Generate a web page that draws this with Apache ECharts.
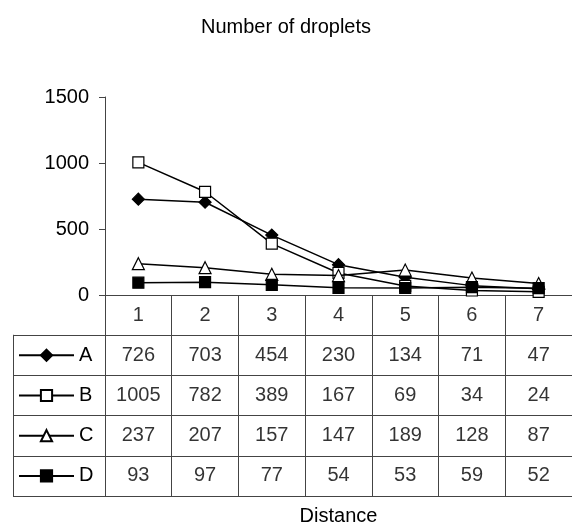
<!DOCTYPE html>
<html><head><meta charset="utf-8">
<script src="https://cdn.jsdelivr.net/npm/echarts@6/dist/echarts.min.js"></script>
<style>html,body{margin:0;padding:0;background:#fff}#c{width:572px;height:527px}</style>
</head><body><div id="c"></div>
<script>
// ---- data ----
const categories = ['1', '2', '3', '4', '5', '6', '7'];
const seriesNames = ['A', 'B', 'C', 'D'];
const valuesA = [726, 703, 454, 230, 134, 71, 47];
const valuesB = [1005, 782, 389, 167, 69, 34, 24];
const valuesC = [237, 207, 157, 147, 189, 128, 87];
const valuesD = [93, 97, 77, 54, 53, 59, 52];
const yMin = 0, yMax = 1500, yStep = 500;
const titleText = 'Number of droplets';
const xTitle = 'Distance';

// ---- layout ----
const PLOT_L = 105, PLOT_T = 97, AXIS_Y = 295, TABLE_B = 496, LEG_L = 13, W = 572;
const ROW_H = (TABLE_B - AXIS_Y) / 5;
const INK = '#000', GRIDC = '#444';
const FS = 20;
const FF = 'Liberation Sans, Arial, sans-serif';

const allValues = [valuesA, valuesB, valuesC, valuesD];
const symbols = ['diamond', 'rect', 'triangle', 'rect'];
const symSizes = [12, 11, 12, 11];
const fills = [INK, '#fff', '#fff', INK];

const lineSeries = seriesNames.map((n, k) => ({
  name: n, type: 'line', xAxisIndex: 0, yAxisIndex: 0,
  data: allValues[k], symbol: symbols[k], symbolSize: symSizes[k],
  showAllSymbol: true,
  lineStyle: { color: INK, width: 1.5 },
  itemStyle: { color: fills[k], borderColor: INK, borderWidth: 1.2 },
  z: 3 + k, animation: false
}));

const rowNames = ['hdr'].concat(seriesNames);
const tableData = [];
categories.forEach((c) => tableData.push([c, 'hdr', c]));
seriesNames.forEach((n, k) => categories.forEach((c, i) => tableData.push([c, n, String(allValues[k][i])])));

const tableSeries = {
  type: 'scatter', xAxisIndex: 1, yAxisIndex: 1, data: tableData,
  symbolSize: 1, itemStyle: { color: 'rgba(0,0,0,0)' }, silent: true,
  label: { show: true, position: 'inside', formatter: p => p.value[2], color: INK, fontSize: FS, fontFamily: FF },
  animation: false
};

const LEG_IH = 14;
const legends = seriesNames.map((n, k) => ({
  data: [n], left: 18 - 5, top: AXIS_Y + ROW_H * (k + 1.5) - 10 - 5,
  itemWidth: 55, itemHeight: LEG_IH, itemGap: 0, selectedMode: false,
  textStyle: { fontSize: FS, color: INK, fontFamily: FF }
}));

const chart = echarts.init(document.getElementById('c'), null, { renderer: 'canvas' });
chart.setOption({
  backgroundColor: '#fff',
  animation: false,
  textStyle: { fontFamily: FF },
  title: { text: titleText, left: 'center', top: 12, padding: [5, 5, 5, 15],
    textStyle: { fontSize: 20, fontWeight: 'normal', color: INK, fontFamily: FF } },
  legend: legends,
  grid: [
    { left: PLOT_L, top: PLOT_T, width: W - PLOT_L, height: AXIS_Y - PLOT_T, outerBoundsMode: 'none', containLabel: false },
    { left: PLOT_L, top: AXIS_Y, width: W - PLOT_L, height: TABLE_B - AXIS_Y, outerBoundsMode: 'none', containLabel: false },
    { left: LEG_L, top: AXIS_Y + ROW_H, width: PLOT_L - LEG_L, height: TABLE_B - AXIS_Y - ROW_H, outerBoundsMode: 'none', containLabel: false }
  ],
  xAxis: [
    { gridIndex: 0, type: 'category', data: categories, boundaryGap: true,
      axisLine: { show: true, lineStyle: { color: GRIDC, width: 1 } },
      axisTick: { show: false }, axisLabel: { show: false }, splitLine: { show: false } },
    { gridIndex: 1, type: 'category', data: categories, boundaryGap: true,
      axisLine: { show: false }, axisTick: { show: false }, axisLabel: { show: false },
      splitLine: { show: true, lineStyle: { color: GRIDC, width: 1 } },
      name: xTitle, nameLocation: 'middle', nameGap: 10,
      nameTextStyle: { fontSize: FS, color: INK, fontFamily: FF, verticalAlign: 'top' } },
    { gridIndex: 2, type: 'value', show: false }
  ],
  yAxis: [
    { gridIndex: 0, type: 'value', min: yMin, max: yMax, interval: yStep,
      axisLine: { show: true, lineStyle: { color: GRIDC, width: 1 } },
      axisTick: { show: true, length: 6, lineStyle: { color: GRIDC } },
      axisLabel: { color: INK, fontSize: FS, margin: 16, formatter: v => String(v) }, splitLine: { show: false } },
    { gridIndex: 1, type: 'category', data: rowNames, inverse: true, boundaryGap: true,
      axisLine: { show: false }, axisTick: { show: false }, axisLabel: { show: false },
      splitLine: { show: true, lineStyle: { color: GRIDC, width: 1 } } },
    { gridIndex: 2, type: 'category', data: seriesNames, inverse: true, boundaryGap: true,
      axisLine: { show: true, lineStyle: { color: GRIDC, width: 1 } },
      axisTick: { show: false }, axisLabel: { show: false },
      splitLine: { show: true, lineStyle: { color: GRIDC, width: 1 } } }
  ],
  series: lineSeries.concat([tableSeries])
});
</script></body></html>
